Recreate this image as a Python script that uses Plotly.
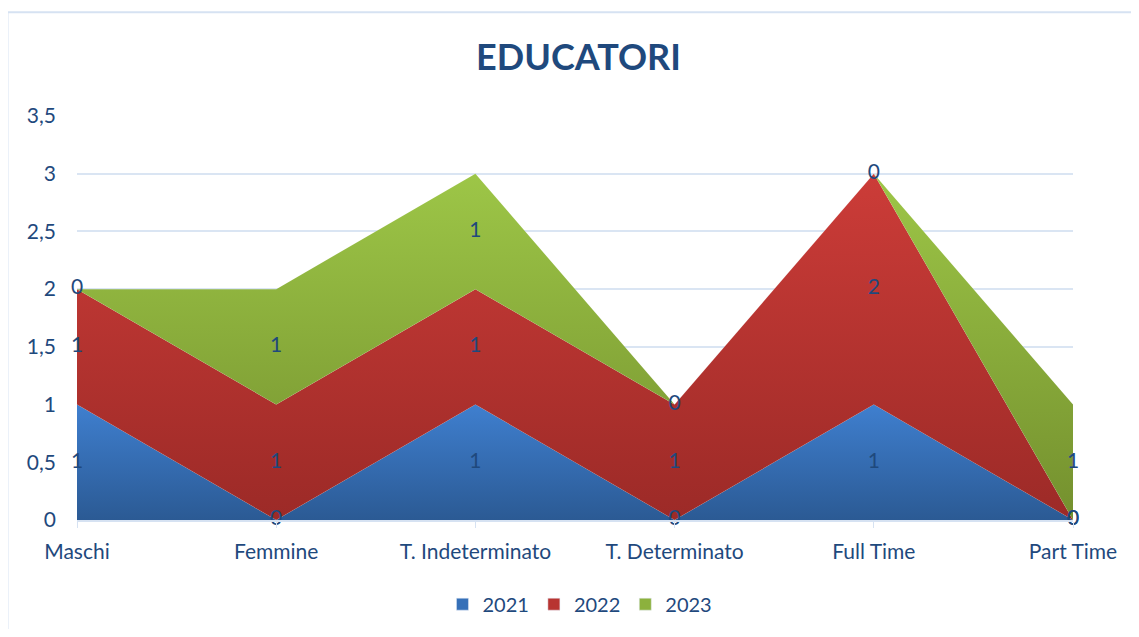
import plotly.graph_objects as go

categories = ["Maschi", "Femmine", "T. Indeterminato", "T. Determinato", "Full Time", "Part Time"]
years = ["2021", "2022", "2023"]
values_2021 = [1, 0, 1, 0, 1, 0]
values_2022 = [1, 1, 1, 1, 2, 0]
values_2023 = [0, 1, 1, 0, 0, 1]
y_ticks = [0, 0.5, 1, 1.5, 2, 2.5, 3, 3.5]
y_tick_labels = ["0", "0,5", "1", "1,5", "2", "2,5", "3", "3,5"]

series = [values_2021, values_2022, values_2023]
# gradient (bottom, top, legend) per series
gradients = [
    ("#2b5a94", "#3f7fcf", "#3670b8"),
    ("#9c2a27", "#cc3c38", "#b83431"),
    ("#74902e", "#9dc647", "#8cb13d"),
]
text_color = "#1f497d"
font_family = "Lato, 'Open Sans', sans-serif"

fig = go.Figure()
cum = [0] * len(categories)
label_x, label_y, label_t = [], [], []
for year, vals, (c_bot, c_top, c_leg) in zip(years, series, gradients):
    fig.add_trace(go.Scatter(
        x=categories, y=vals, name=year,
        stackgroup="one", mode="lines",
        line=dict(width=0.3, color="rgba(255,255,255,0.2)"),
        fillgradient=dict(type="vertical", colorscale=[[0, c_bot], [1, c_top]]),
        fillcolor=c_top, showlegend=False,
        hoverinfo="x+y+name",
    ))
    # legend entry with square swatch
    fig.add_trace(go.Bar(x=[None], y=[None], name=year, marker_color=c_leg,
                         showlegend=True, hoverinfo="skip"))
    for i, v in enumerate(vals):
        label_x.append(categories[i])
        label_y.append(cum[i] + v / 2)
        label_t.append(str(v))
        cum[i] += v

fig.add_trace(go.Scatter(
    x=label_x, y=label_y, text=label_t, mode="text",
    textfont=dict(color=text_color, size=21, family=font_family),
    textposition="middle center", showlegend=False, hoverinfo="skip",
    cliponaxis=False,
))

# chart border
fig.add_shape(type="rect", xref="paper", yref="paper",
              x0=-0.0698, x1=1.2, y0=-0.3, y1=1.257,
              line=dict(color="#d6e2f2", width=2), layer="below")

# page body adds an 8px margin on every side, so the figure is shrunk to fit
fig.update_layout(
    width=1123, height=621,
    margin=dict(l=69, r=58, t=108, b=109),
    paper_bgcolor="white", plot_bgcolor="white",
    title=dict(text="<b>EDUCATORI</b>", x=0.508, xanchor="center",
               y=0.92, yanchor="middle",
               font=dict(size=36, color=text_color, family=font_family)),
    font=dict(family=font_family, color=text_color, size=21),
    xaxis=dict(
        type="category", range=[0, 5], showgrid=False, automargin=False,
        showline=True, linecolor="#d6e2f2", linewidth=2,
        ticks="outside", ticklen=6, tickcolor="#d6e2f2",
        ticklabelstandoff=6,
        tickfont=dict(size=21, color=text_color),
    ),
    yaxis=dict(
        range=[0, 3.5], tickvals=y_ticks, ticktext=y_tick_labels,
        showgrid=True, gridcolor="#dae5f3", gridwidth=2, automargin=False,
        zeroline=False, ticks="", ticklabelstandoff=20,
        tickfont=dict(size=21, color=text_color),
    ),
    legend=dict(orientation="h", x=0.505, xanchor="center",
                yref="container", y=0.04, yanchor="middle",
                traceorder="normal",
                font=dict(size=20, color=text_color), itemwidth=30),
    showlegend=True,
)

fig.write_html("out.html")
